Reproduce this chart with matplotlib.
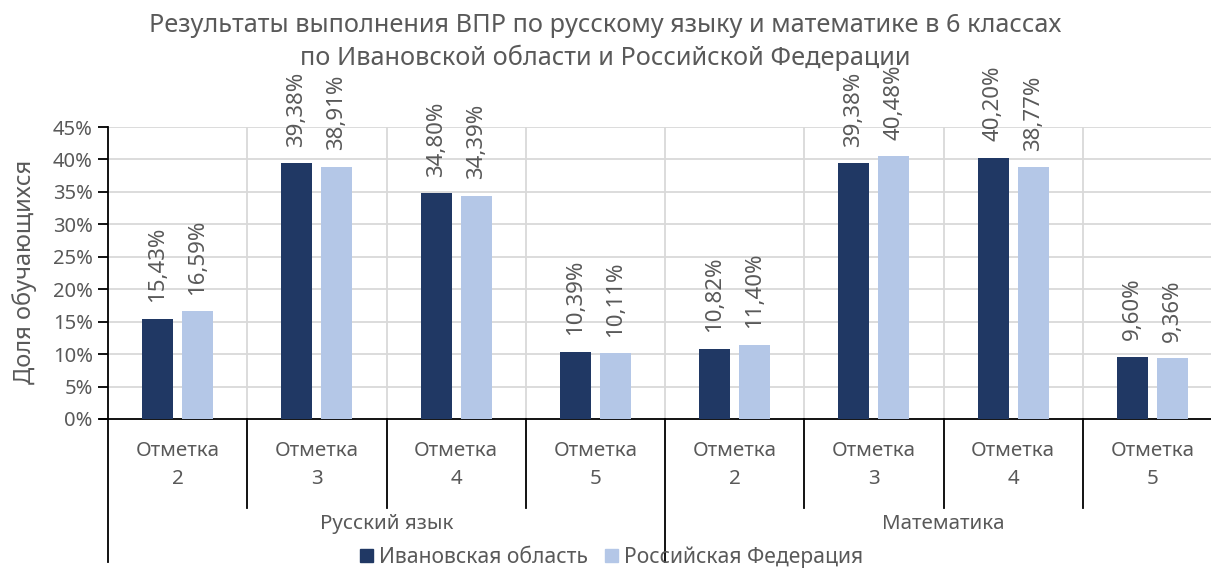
import numpy as np
import matplotlib
matplotlib.use('Agg')
import matplotlib.pyplot as plt
import matplotlib.transforms as mtransforms
from matplotlib.patches import Patch

plt.rcParams['font.family'] = ['Noto Sans', 'DejaVu Sans']

# данные
subjects = ['Русский язык', 'Математика']
marks = ['Отметка\n2', 'Отметка\n3', 'Отметка\n4', 'Отметка\n5']
series_names = ['Ивановская область', 'Российская Федерация']
ivanovo = [15.43, 39.38, 34.80, 10.39, 10.82, 39.38, 40.20, 9.60]
russia = [16.59, 38.91, 34.39, 10.11, 11.40, 40.48, 38.77, 9.36]
yticks = [0, 5, 10, 15, 20, 25, 30, 35, 40, 45]

ColorDark = '#203864'
ColorLight = '#B4C7E7'
ColorText = '#595959'
ColorGrid = '#D9D9D9'

fig = plt.figure(figsize=(12.11, 5.69), dpi=100)
ax = fig.add_axes([108/1211, 150/569, 1114/1211, 292/569])

n = len(ivanovo)
x = np.arange(n)
w = 0.223
off = 0.144
b1 = ax.bar(x - off, ivanovo, w, color=ColorDark, zorder=3)
b2 = ax.bar(x + off, russia, w, color=ColorLight, zorder=3)

def lab(v):
    return f'{v:.2f}'.replace('.', ',') + '%'

for bars, vals in ((b1, ivanovo), (b2, russia)):
    for r, v in zip(bars, vals):
        ax.annotate(lab(v), xy=(r.get_x() + r.get_width()/2, v),
                    xytext=(0, 12), textcoords='offset points',
                    rotation=90, ha='center', va='bottom',
                    fontsize=16, color=ColorText, annotation_clip=False)

ax.set_xlim(-0.5, n - 0.5)
ax.set_ylim(0, 45)
ax.set_yticks(yticks)
ax.set_yticklabels([f'{t}%' for t in yticks], fontsize=14.5, color=ColorText)
ax.tick_params(axis='y', direction='out', length=7, width=1.3, color='black', pad=4)
ax.set_xticks([])

# сетка
for t in yticks[1:]:
    ax.axhline(t, color=ColorGrid, lw=1.3, zorder=1)
for b in np.arange(0.5, n - 0.5, 1):
    ax.axvline(b, color=ColorGrid, lw=1.3, zorder=1)

for s in ['top', 'right']:
    ax.spines[s].set_visible(False)
ax.spines['left'].set_color('black')
ax.spines['left'].set_linewidth(1.3)
ax.spines['bottom'].set_color('black')
ax.spines['bottom'].set_linewidth(1.3)

fig.text(25/1211, 1 - 272/569, 'Доля обучающихся', rotation=90, ha='center', va='center',
         fontsize=17, color=ColorText)

# многоуровневая ось категорий
trans = mtransforms.blended_transform_factory(ax.transData, ax.transAxes)
lvl1 = -(508 - 419) / 292
lvl2 = -(562 - 419) / 292
for i in range(n + 1):
    b = i - 0.5
    bottom = lvl2 if i % 4 == 0 else lvl1
    ax.plot([b, b], [0, bottom], color='black', lw=1.3, transform=trans, clip_on=False)
ax.plot([-0.5 - 0.06, -0.5], [0, 0], color='black', lw=1.3, transform=trans, clip_on=False)

for i in range(n):
    ax.text(i, -(465 - 419) / 292, marks[i % 4], transform=trans, ha='center', va='center',
            fontsize=14.8, color=ColorText, linespacing=1.5)
for j, s in enumerate(subjects):
    ax.text(j*4 + 1.5, -(524 - 419) / 292, s, transform=trans, ha='center', va='center',
            fontsize=14.8, color=ColorText)

fig.text(605/1211, 1 - 42/569, 'Результаты выполнения ВПР по русскому языку и математике в 6 классах\n'
         'по Ивановской области и Российской Федерации',
         ha='center', va='center', fontsize=18.2, color=ColorText, linespacing=1.3)

handles = [Patch(color=ColorDark), Patch(color=ColorLight)]
fig.legend(handles, series_names, loc='center', bbox_to_anchor=(612/1211, 1 - 557/569),
           ncol=2, frameon=False, fontsize=15.2, labelcolor=ColorText,
           handlelength=0.6, handleheight=0.6, handletextpad=0.3, columnspacing=0.8,
           borderaxespad=0, borderpad=0)

fig.savefig('out.png', dpi=100)
